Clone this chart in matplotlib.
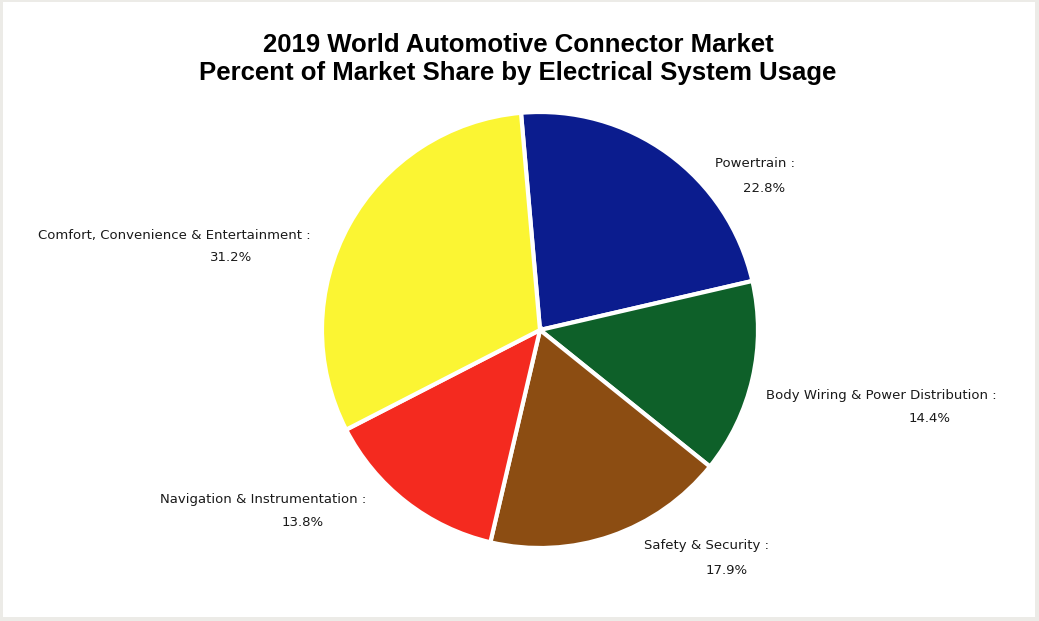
import matplotlib.pyplot as plt
from matplotlib.patches import Rectangle

# Data
labels = ['Powertrain', 'Body Wiring & Power Distribution', 'Safety & Security',
          'Navigation & Instrumentation', 'Comfort, Convenience & Entertainment']
shares = [22.8, 14.4, 17.9, 13.8, 31.2]
colors = ['#0b1c8e', '#0e6029', '#8c4d12', '#f42a1f', '#fbf533']

# label positions in pixels (x, y from top) for name line and value line
label_pos = [((755, 163), (764, 188)),
             ((881, 395), (930, 419)),
             ((706, 546), (727, 570)),
             ((263, 500), (303, 523)),
             ((174, 235), (231, 257))]

W, H = 1039, 621
fig = plt.figure(figsize=(W / 100, H / 100), dpi=100)
fig.patch.set_facecolor('#ecebe7')
fig.patches.append(Rectangle((3 / W, 4 / H), 1032 / W, 615 / H, transform=fig.transFigure,
                             facecolor='white', edgecolor='none', zorder=-5))

# pie axes: centre (540, 330) px, radius ~218 px
cx, cy, r = 540, 330, 218
half = 222
ax = fig.add_axes([(cx - half) / W, (H - cy - half) / H, 2 * half / W, 2 * half / H])
ax.set_zorder(2)
ax.patch.set_visible(False)
ax.pie(shares, colors=colors, startangle=95, counterclock=False, radius=1,
       wedgeprops=dict(edgecolor='white', linewidth=3))
ax.set_xlim(-half / r, half / r)
ax.set_ylim(-half / r, half / r)
ax.set_aspect('auto')
ax.axis('off')

for lab, val, (p1, p2) in zip(labels, shares, label_pos):
    fig.text(p1[0] / W, 1 - p1[1] / H, lab + ' :', ha='center', va='center',
             fontsize=9.5, color='#1a1a1a')
    fig.text(p2[0] / W, 1 - p2[1] / H, f'{val:.1f}%', ha='center', va='center',
             fontsize=9.5, color='#1a1a1a')

fig.text(518 / W, 1 - 45 / H, '2019 World Automotive Connector Market',
         ha='center', va='center', fontsize=18.5, fontweight='bold', family='Liberation Sans')
fig.text(518 / W, 1 - 73 / H, 'Percent of Market Share by Electrical System Usage',
         ha='center', va='center', fontsize=18.5, fontweight='bold', family='Liberation Sans')

fig.savefig('out.png', dpi=100, facecolor=fig.get_facecolor())
